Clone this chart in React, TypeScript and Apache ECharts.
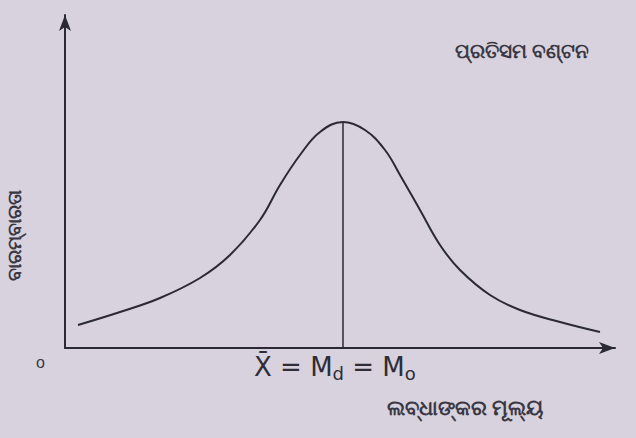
import React, { useEffect, useRef } from "react";
import * as echarts from "echarts";

const scoreValues = [13, 55, 95, 135, 165, 195, 215, 235, 255, 278, 300, 320, 335, 355, 375, 395, 425, 455, 495, 535];
const frequencies = [23, 36, 50, 70, 93, 128, 163, 193, 216, 226, 218, 198, 173, 138, 103, 78, 53, 38, 26, 16];
const meanValue = 278;
const peakFrequency = 226;

const titleText = "ପ୍ରତିସମ ବଣ୍ଟନ";
const yName = "ବାରମ୍ବାରତା";
const xName = "ଲବ୍ଧାଙ୍କର ମୂଲ୍ୟ";

export default function App() {
  const ref = useRef<HTMLDivElement>(null);
  useEffect(() => {
    const chart = echarts.init(ref.current!, null, { renderer: "svg" });
    const ink = "#2a2934";
    chart.setOption({
      animation: false,
      backgroundColor: "#d7d2dd",
      grid: { left: 65, right: 21, top: 15, bottom: 90 },
      xAxis: {
        type: "value",
        min: 0,
        max: 550,
        axisLine: { show: true, symbol: ["none", "arrow"], symbolSize: [9, 16], lineStyle: { color: ink, width: 2 } },
        axisTick: { show: false },
        axisLabel: { show: false },
        splitLine: { show: false },
      },
      yAxis: {
        type: "value",
        min: 0,
        max: 333,
        axisLine: { show: true, symbol: ["none", "arrow"], symbolSize: [9, 16], lineStyle: { color: ink, width: 2 } },
        axisTick: { show: false },
        axisLabel: { show: false },
        splitLine: { show: false },
      },
      series: [
        {
          type: "line",
          data: scoreValues.map((x, i) => [x, frequencies[i]]),
          smooth: 0.4,
          showSymbol: false,
          lineStyle: { color: ink, width: 2 },
          markLine: {
            symbol: "none",
            silent: true,
            label: { show: false },
            lineStyle: { color: ink, width: 1.5, type: "solid" },
            data: [[{ coord: [meanValue, 0] }, { coord: [meanValue, peakFrequency] }]],
          },
        },
      ],
      graphic: [
        {
          type: "text",
          left: 455,
          top: 40,
          style: { text: titleText, font: "bold 20px 'Noto Sans', sans-serif", fill: "#3a3844" },
        },
        {
          type: "text",
          x: 14,
          y: 235,
          rotation: Math.PI / 2,
          style: { text: yName, font: "bold 19px 'Noto Sans', sans-serif", fill: "#3a3844", align: "center", verticalAlign: "middle" },
        },
        {
          type: "text",
          left: 387,
          top: 396,
          style: { text: xName, font: "bold 21px 'Noto Sans', sans-serif", fill: "#3a3844" },
        },
        {
          type: "text",
          left: 36,
          top: 354,
          style: { text: "o", font: "16px 'Liberation Sans', sans-serif", fill: "#3a3844" },
        },
        {
          type: "text",
          left: 254,
          top: 354,
          style: {
            rich: {
              m: { font: "26px 'DejaVu Sans', sans-serif", fill: "#2f2d38" },
              s: { font: "18px 'DejaVu Sans', sans-serif", fill: "#2f2d38", padding: [12, 0, 0, 0] },
            },
            text: "{m|X̄ = M}{s|d}{m| = M}{s|o}",
          },
        },
      ],
    });
    return () => chart.dispose();
  }, []);
  return <div ref={ref} style={{ width: 636, height: 438, position: "absolute", left: 0, top: 0 }} />;
}
